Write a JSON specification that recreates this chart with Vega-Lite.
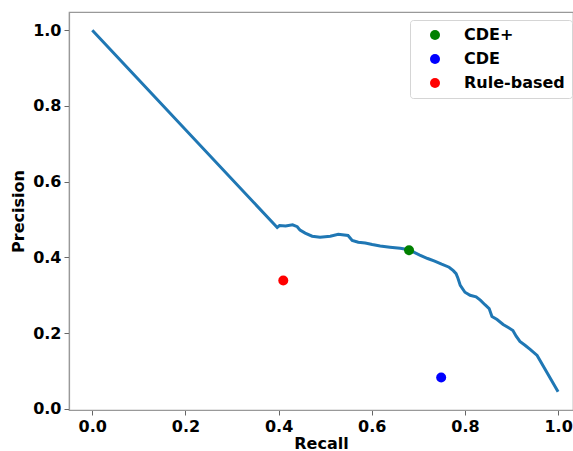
{
  "$schema": "https://vega.github.io/schema/vega-lite/v6.json",
  "width": 504,
  "height": 398,
  "autosize": {"type": "none"},
  "padding": {"left": 69, "top": 12, "right": 0, "bottom": 41},
  "background": "white",
  "config": {
    "view": {"stroke": "#999", "strokeWidth": 1.2},
    "font": "DejaVu Sans",
    "axis": {
      "grid": false,
      "domainColor": "#999",
      "domainWidth": 1.2,
      "tickColor": "#666",
      "tickSize": 5,
      "labelFont": "DejaVu Sans",
      "labelFontSize": 16,
      "labelFontWeight": "bold",
      "labelColor": "black",
      "labelPadding": 3,
      "titleFont": "DejaVu Sans",
      "titleFontSize": 16,
      "titleFontWeight": "bold",
      "titleColor": "black"
    }
  },
  "datasets": {
    "curve": [
      {"recall": 0.0, "precision": 1.0},
      {"recall": 0.397, "precision": 0.479},
      {"recall": 0.402, "precision": 0.484},
      {"recall": 0.415, "precision": 0.483},
      {"recall": 0.43, "precision": 0.486},
      {"recall": 0.44, "precision": 0.481},
      {"recall": 0.446, "precision": 0.472},
      {"recall": 0.457, "precision": 0.464},
      {"recall": 0.472, "precision": 0.456},
      {"recall": 0.489, "precision": 0.453},
      {"recall": 0.511, "precision": 0.456},
      {"recall": 0.528, "precision": 0.461},
      {"recall": 0.549, "precision": 0.458},
      {"recall": 0.558, "precision": 0.445},
      {"recall": 0.571, "precision": 0.44},
      {"recall": 0.586, "precision": 0.438},
      {"recall": 0.601, "precision": 0.434},
      {"recall": 0.618, "precision": 0.43},
      {"recall": 0.639, "precision": 0.427},
      {"recall": 0.661, "precision": 0.424},
      {"recall": 0.68, "precision": 0.42},
      {"recall": 0.69, "precision": 0.414},
      {"recall": 0.703, "precision": 0.406},
      {"recall": 0.72, "precision": 0.397},
      {"recall": 0.735, "precision": 0.39},
      {"recall": 0.75, "precision": 0.382},
      {"recall": 0.766, "precision": 0.374},
      {"recall": 0.775, "precision": 0.365},
      {"recall": 0.781, "precision": 0.357},
      {"recall": 0.785, "precision": 0.345},
      {"recall": 0.79, "precision": 0.326},
      {"recall": 0.8, "precision": 0.308},
      {"recall": 0.811, "precision": 0.3},
      {"recall": 0.824, "precision": 0.296},
      {"recall": 0.833, "precision": 0.287},
      {"recall": 0.843, "precision": 0.275},
      {"recall": 0.852, "precision": 0.265},
      {"recall": 0.858, "precision": 0.244},
      {"recall": 0.869, "precision": 0.236},
      {"recall": 0.882, "precision": 0.223},
      {"recall": 0.893, "precision": 0.215},
      {"recall": 0.903, "precision": 0.207},
      {"recall": 0.91, "precision": 0.192},
      {"recall": 0.918, "precision": 0.178},
      {"recall": 0.929, "precision": 0.168},
      {"recall": 0.94, "precision": 0.157},
      {"recall": 0.955, "precision": 0.141},
      {"recall": 1.0, "precision": 0.045}
    ],
    "methods": [
      {"method": "CDE+", "recall": 0.68, "precision": 0.419},
      {"method": "CDE", "recall": 0.749, "precision": 0.083},
      {"method": "Rule-based", "recall": 0.41, "precision": 0.339}
    ]
  },
  "layer": [
    {
      "data": {"name": "curve"},
      "mark": {"type": "line", "color": "#1f77b4", "strokeWidth": 3, "clip": true},
      "encoding": {
        "x": {"field": "recall", "type": "quantitative", "title": "Recall",
              "scale": {"domain": [-0.05, 1.032], "nice": false, "zero": false},
              "axis": {"values": [0, 0.2, 0.4, 0.6, 0.8, 1.0], "format": ".1f", "titlePadding": 1}},
        "y": {"field": "precision", "type": "quantitative", "title": "Precision",
              "scale": {"domain": [-0.003, 1.048], "nice": false, "zero": false},
              "axis": {"values": [0, 0.2, 0.4, 0.6, 0.8, 1.0], "format": ".1f", "titlePadding": 6}},
        "order": {"field": "recall", "type": "quantitative"}
      }
    },
    {
      "data": {"name": "methods"},
      "mark": {"type": "point", "filled": true, "shape": "circle", "size": 100, "opacity": 1},
      "encoding": {
        "x": {"field": "recall", "type": "quantitative"},
        "y": {"field": "precision", "type": "quantitative"},
        "color": {
          "field": "method", "type": "nominal",
          "scale": {"domain": ["CDE+", "CDE", "Rule-based"], "range": ["#008000", "#0000ff", "#ff0000"]},
          "legend": {
            "title": null,
            "orient": "none",
            "legendX": 341,
            "legendY": 8,
            "fillColor": "white",
            "strokeColor": "#d5d5d5",
            "cornerRadius": 3,
            "padding": 7,
            "symbolType": "circle",
            "symbolSize": 100,
            "symbolOffset": 10,
            "labelOffset": 21,
            "labelFont": "DejaVu Sans",
            "labelFontSize": 16,
            "labelFontWeight": "bold",
            "labelColor": "black",
            "rowPadding": 8
          }
        }
      }
    }
  ]
}
